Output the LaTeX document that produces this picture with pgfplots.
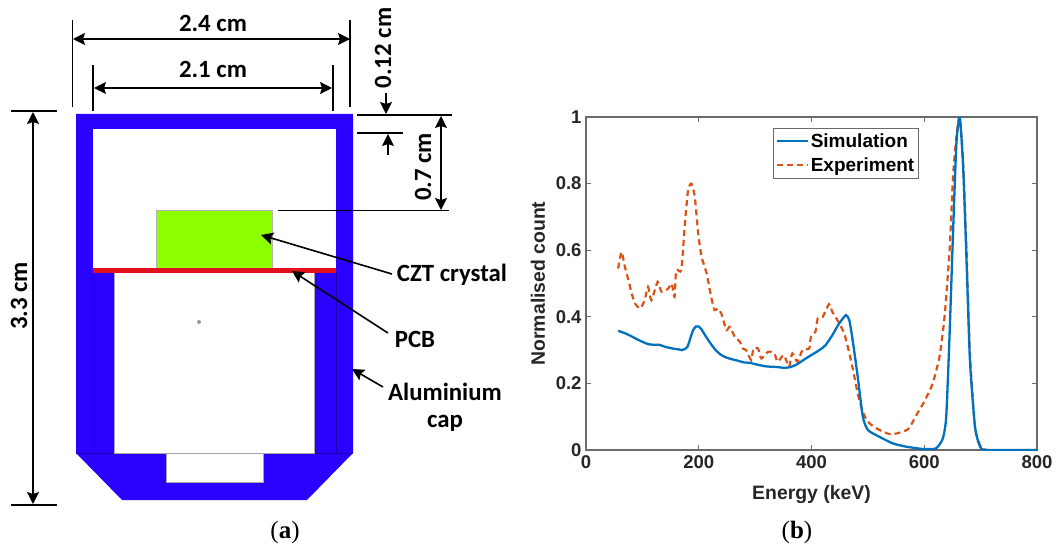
\documentclass[border=0pt]{standalone}
\usepackage{fontspec}
\setmainfont{Liberation Sans}
\newfontfamily\calb[BoldFont={Carlito Bold}]{Carlito}
\newfontfamily\capf{Liberation Serif}
\usepackage{pgfplots}
\pgfplotsset{compat=1.18}
\usetikzlibrary{arrows.meta}
\definecolor{capblue}{HTML}{2A00FF}
\definecolor{capline}{HTML}{1C00B0}
\definecolor{czt}{HTML}{8CFF00}
\definecolor{pcb}{HTML}{E0101C}
\definecolor{simc}{HTML}{0072BD}
\definecolor{expc}{HTML}{D95319}
\definecolor{axc}{gray}{0.42}
\definecolor{txc}{gray}{0.15}
\newcommand{\dfont}{\fontsize{24.8}{28}\selectfont\calb\bfseries}
\tikzset{dim/.style={line width=1.6pt,black,{Stealth[length=12pt,width=12pt,inset=2pt]}-{Stealth[length=12pt,width=12pt,inset=2pt]}},
 arr/.style={line width=1.6pt,black,-{Stealth[length=12pt,width=12pt,inset=2pt]}},
 ext/.style={line width=1.4pt,black}}
\begin{document}
\begin{tikzpicture}[x=1pt,y=1pt]
\path (0pt,0pt) rectangle (1056pt,547pt);
\begin{scope}[yshift=547pt,y=-1pt,x=1pt]
% detector body
\fill[capblue] (76,114) -- (353,114) -- (353,453) -- (307,500) -- (122,500) -- (76,453) -- cycle;
\fill[white] (93,129) rectangle (336,270);
\fill[white] (114,270) rectangle (314,453);
\fill[white] (166,453) rectangle (263,482);
\draw[capline,line width=0.5pt] (93,272) -- (93,453) (336,272) -- (336,453) (76,453) -- (114,453) (314,453) -- (353,453);
\draw[gray!70,line width=0.7pt] (114,272) -- (114,453) -- (314,453) -- (314,272) (166,453) -- (166,482) -- (263,482) -- (263,453);
\fill[gray!80] (199,322) circle (2);
\fill[czt,draw=gray!60,line width=0.7pt] (156,210) rectangle (272,268.5);
\fill[pcb] (93,268.3) rectangle (336,272.7);
% dimensions
\draw[ext] (72.5,20) -- (72.5,107) (350,20) -- (350,107);
\draw[dim] (73,39) -- (350,39);
\node[font=\dfont] at (213,23) {2.4 cm};
\draw[ext] (93,65) -- (93,111) (333,65) -- (333,111);
\draw[dim] (94,88) -- (332,88);
\node[font=\dfont] at (213,69) {2.1 cm};
\node[font=\dfont,rotate=90] at (383,48) {0.12 cm};
\draw[arr] (386,93) -- (386,114);
\draw[ext] (357,115) -- (452,115) (357,133) -- (403,133) (278,210.5) -- (449,210.5);
\draw[arr] (388,155) -- (388,134);
\node[font=\dfont,rotate=90] at (423,167) {0.7 cm};
\draw[dim] (441,116) -- (441,210);
\node[font=\dfont,rotate=90] at (19,296) {3.3 cm};
\draw[dim] (33,112) -- (33,504);
\draw[ext] (11,111) -- (57,111) (11,505) -- (57,505);
\draw[arr] (392,274) -- (261,235);
\node[font=\dfont] at (452,275) {CZT crystal};
\draw[arr] (388,333) -- (292,271);
\node[font=\dfont] at (415,339) {PCB};
\draw[arr] (383,387) -- (352,369);
\node[font=\dfont] at (445,392) {Aluminium};
\node[font=\dfont] at (445,423) {cap};
\node[font=\fontsize{25}{28}\selectfont\capf] at (285,532) {(\textbf{a})};
\node[font=\fontsize{25}{28}\selectfont\capf] at (797,532) {(\textbf{b})};
\end{scope}
\begin{axis}[
 at={(586pt,97pt)},anchor=south west,
 scale only axis,width=451pt,height=333pt,
 xmin=0,xmax=800,ymin=0,ymax=1,
 xtick={0,200,400,600,800},ytick={0,0.2,0.4,0.6,0.8,1},
 tick align=inside,major tick length=5pt,
 axis line style={axc,line width=1.1pt},
 tick style={axc,line width=0.8pt},
 /pgf/number format/assume math mode=true,
 tick label style={font=\fontsize{18.5}{20}\selectfont\bfseries,text=txc},
 xticklabel style={yshift=-2pt},
 yticklabel style={xshift=-1pt},
 xlabel={Energy (keV)},ylabel={Normalised count},
 label style={font=\fontsize{19.4}{21}\selectfont\bfseries,text=txc},
 xlabel style={at={(axis description cs:0.5,0)},anchor=center,yshift=-45pt},
 ylabel style={at={(axis description cs:0,0.5)},anchor=center,yshift=48pt},
 legend style={at={(0.4146,0.967)},anchor=north west,draw=axc,line width=1pt,fill=white,
   font=\fontsize{19}{22}\selectfont\bfseries,inner xsep=2pt,inner ysep=3pt,row sep=5pt,
   /tikz/every even column/.append style={column sep=0pt},
   legend cell align=left},
 legend image code/.code={\draw[#1] (0pt,0pt) -- (31pt,0pt);},
]
\addlegendimage{simc,line width=2.3pt}
\addlegendimage{expc,line width=2.2pt,dash pattern=on 6pt off 4pt}
\addplot[forget plot,expc,line width=2.2pt,dash pattern=on 6pt off 4pt,smooth,tension=0.35] coordinates {
(57,.545)(63,.595)(69,.55)(76,.505)(81,.47)(87,.44)(96,.425)(104,.45)(110,.49)(116,.45)(127,.505)(134,.475)(146,.485)(152,.50)(157,.46)(160,.54)(169,.54)(175,.67)(181,.78)(187,.80)(193,.76)(199,.65)(205,.58)(214,.53)(222,.46)(228,.42)(234,.425)(240,.41)(249,.36)(255,.37)(264,.34)(273,.325)(278,.305)(284,.30)(293,.27)(297,.305)(305,.305)(311,.275)(323,.295)(334,.29)(340,.265)(351,.285)(360,.25)(366,.29)(375,.265)(384,.30)(396,.305)(399,.34)(407,.355)(411,.395)(420,.40)(431,.438)(437,.415)(446,.39)(458,.35)(470,.27)(482,.17)(491,.115)(500,.085)(515,.065)(541,.047)(571,.062)(586,.105)(600,.145)(615,.20)(627,.28)(636,.40)(645,.60)(651,.82)(657,.94)(663,1)(669,.86)(675,.60)(681,.29)(690,.07)(699,.015)(711,0)(800,0)};
\addplot[forget plot,simc,line width=2.3pt,smooth,tension=0.35] coordinates {
(57,.358)(70,.35)(80,.342)(90,.333)(100,.325)(110,.318)(120,.316)(130,.316)(140,.31)(150,.306)(160,.303)(165,.302)(170,.300)(175,.303)(180,.310)(185,.335)(190,.360)(195,.371)(200,.371)(205,.362)(210,.348)(215,.335)(220,.322)(230,.30)(240,.285)(250,.277)(260,.272)(270,.268)(280,.263)(290,.262)(300,.258)(310,.254)(320,.251)(330,.25)(340,.249)(350,.247)(360,.248)(372,.255)(390,.275)(414,.30)(425,.315)(437,.345)(449,.38)(461,.405)(467,.39)(473,.33)(482,.22)(491,.10)(500,.06)(520,.04)(544,.02)(568,.01)(598,.003)(621,.005)(633,.035)(639,.10)(645,.35)(651,.65)(657,.92)(663,1)(669,.85)(675,.57)(681,.27)(690,.07)(699,.01)(711,0)(800,0)};
\legend{Simulation,Experiment}
\end{axis}
\end{tikzpicture}
\end{document}
